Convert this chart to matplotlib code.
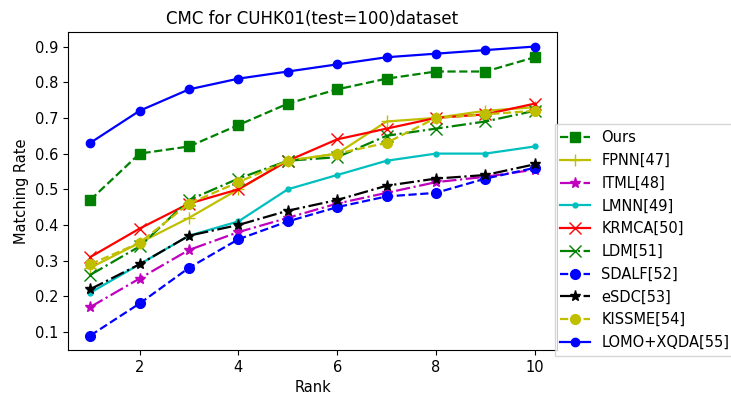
import matplotlib
matplotlib.use("Agg")
import matplotlib.pyplot as plt

# datos de las curvas CMC (rank 1..10)
rank = [1, 2, 3, 4, 5, 6, 7, 8, 9, 10]

ours = [0.47, 0.60, 0.62, 0.68, 0.74, 0.78, 0.81, 0.83, 0.83, 0.87]
fpnn = [0.28, 0.35, 0.42, 0.50, 0.58, 0.60, 0.69, 0.70, 0.72, 0.73]
itml = [0.17, 0.25, 0.33, 0.38, 0.42, 0.46, 0.49, 0.52, 0.535, 0.555]
lmnn = [0.21, 0.29, 0.37, 0.41, 0.50, 0.54, 0.58, 0.60, 0.60, 0.62]
krmca = [0.31, 0.39, 0.46, 0.50, 0.58, 0.64, 0.67, 0.70, 0.71, 0.74]
ldm = [0.26, 0.34, 0.47, 0.53, 0.58, 0.59, 0.65, 0.67, 0.69, 0.72]
sdalf = [0.09, 0.18, 0.28, 0.36, 0.41, 0.45, 0.48, 0.49, 0.53, 0.56]
esdc = [0.22, 0.29, 0.37, 0.40, 0.44, 0.47, 0.51, 0.53, 0.54, 0.57]
kissme = [0.29, 0.35, 0.46, 0.52, 0.58, 0.60, 0.63, 0.70, 0.71, 0.72]
lomo = [0.63, 0.72, 0.78, 0.81, 0.83, 0.85, 0.87, 0.88, 0.89, 0.90]

fig = plt.figure(figsize=(7.31, 3.96), dpi=100)
ax = fig.add_axes([0.093, 0.116, 0.669, 0.803])

ax.plot(rank, ours, "s--", color="green", ms=7, lw=1.6, label="Ours")
ax.plot(rank, fpnn, "+-", color="y", ms=9, lw=1.6, label="FPNN[47]")
ax.plot(rank, itml, "*-.", color="m", ms=8, lw=1.6, label="ITML[48]")
ax.plot(rank, lmnn, ".-", color="c", ms=7, lw=1.6, label="LMNN[49]")
ax.plot(rank, krmca, "x-", color="r", ms=8, lw=1.6, label="KRMCA[50]")
ax.plot(rank, ldm, "x-.", color="green", ms=8, lw=1.6, label="LDM[51]")
ax.plot(rank, sdalf, "o--", color="b", ms=7, lw=1.6, label="SDALF[52]")
ax.plot(rank, esdc, "*-.", color="k", ms=8, lw=1.6, label="eSDC[53]")
ax.plot(rank, kissme, "o--", color="y", ms=7, lw=1.6, label="KISSME[54]")
ax.plot(rank, lomo, "o-", color="b", ms=6, lw=1.6, label="LOMO+XQDA[55]")

ax.set_xticks([2, 4, 6, 8, 10])
ax.set_yticks([0.1, 0.2, 0.3, 0.4, 0.5, 0.6, 0.7, 0.8, 0.9])
ax.tick_params(labelsize=10.5)
ax.set_xlabel("Rank", fontsize=10.5)
ax.set_ylabel("Matching Rate", fontsize=10.5)
ax.set_title("CMC for CUHK01(test=100)dataset", fontsize=12)

ax.legend(loc="center left", bbox_to_anchor=(0.995, 0.346), borderaxespad=0,
          fontsize=10.5, labelspacing=0.53, fancybox=False)

plt.savefig("out.png")
